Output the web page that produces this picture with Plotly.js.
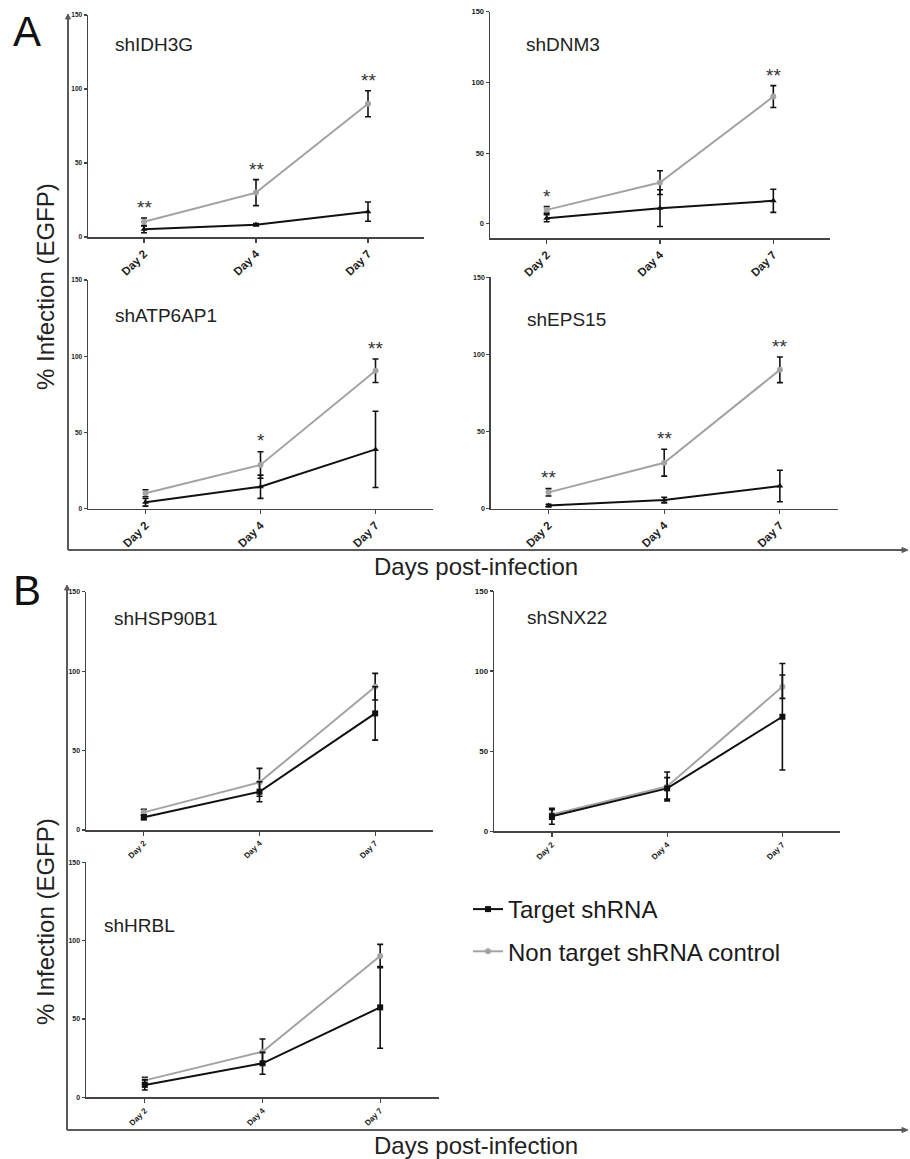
<!DOCTYPE html>
<html>
<head>
<meta charset="utf-8">
<script src="https://cdn.plot.ly/plotly-3.0.1.min.js"></script>
<style>html,body{margin:0;padding:0;background:#fff;}#chart{width:910px;height:1159px;}</style>
</head>
<body>
<div id="chart"></div>
<script>
// ---------- data ----------
const days = ["Day 2", "Day 4", "Day 7"];
const yTicks = [0, 50, 100, 150];
const seriesNames = ["Target shRNA", "Non target shRNA control"];

const panelNames = ["shIDH3G", "shDNM3", "shATP6AP1", "shEPS15", "shHSP90B1", "shSNX22", "shHRBL"];

const idh3gTarget = [5.2, 8.3, 17.1];
const idh3gTargetErr = [2.3, 0.8, 6.5];
const idh3gControl = [10.3, 30.0, 90.0];
const idh3gControlErr = [2.5, 8.8, 8.8];
const idh3gStars = ["**", "**", "**"];

const dnm3Target = [4.0, 11.1, 16.3];
const dnm3TargetErr = [2.5, 13.0, 8.2];
const dnm3Control = [9.9, 29.2, 90.0];
const dnm3ControlErr = [2.3, 8.4, 7.7];
const dnm3Stars = ["*", "", "**"];

const atp6ap1Target = [4.2, 14.4, 38.9];
const atp6ap1TargetErr = [2.5, 7.6, 25.0];
const atp6ap1Control = [10.1, 28.7, 90.5];
const atp6ap1ControlErr = [2.3, 8.7, 7.7];
const atp6ap1Stars = ["", "*", "**"];

const eps15Target = [2.0, 5.6, 14.7];
const eps15TargetErr = [0.8, 1.8, 10.2];
const eps15Control = [10.6, 29.8, 90.0];
const eps15ControlErr = [2.4, 8.7, 8.3];
const eps15Stars = ["**", "**", "**"];

const hsp90b1Target = [8.0, 24.1, 73.4];
const hsp90b1TargetErr = [1.5, 6.3, 16.8];
const hsp90b1Control = [11.1, 30.0, 90.2];
const hsp90b1ControlErr = [2.0, 8.8, 8.4];

const snx22Target = [9.4, 26.8, 71.5];
const snx22TargetErr = [5.0, 6.7, 33.2];
const snx22Control = [10.5, 28.0, 90.3];
const snx22ControlErr = [3.0, 9.0, 7.3];

const hrblTarget = [7.9, 21.7, 57.4];
const hrblTargetErr = [3.2, 7.0, 26.1];
const hrblControl = [10.8, 29.1, 90.2];
const hrblControlErr = [2.0, 8.1, 7.4];

// ---------- layout geometry (pixels) ----------
const W = 910, H = 1159;
const fx = px => px / W;
const fy = px => 1 - px / H;
const FONT = '"Liberation Sans", Arial, sans-serif';

const panels = [
  {name: panelNames[0], t: idh3gTarget, te: idh3gTargetErr, c: idh3gControl, ce: idh3gControlErr, stars: idh3gStars,
   x: [88, 424], y: [15, 237], yr: [0, 150], ytf: 6.5, xtf: 11.5, sym: "triangle-up", title: [113, 45]},
  {name: panelNames[1], t: dnm3Target, te: dnm3TargetErr, c: dnm3Control, ce: dnm3ControlErr, stars: dnm3Stars,
   x: [490, 830], y: [11.7, 238], yr: [-10, 150], ytf: 7.5, xtf: 11.5, sym: "triangle-up", title: [524, 45]},
  {name: panelNames[2], t: atp6ap1Target, te: atp6ap1TargetErr, c: atp6ap1Control, ce: atp6ap1ControlErr, stars: atp6ap1Stars,
   x: [88, 433], y: [280, 508.7], yr: [0, 150], ytf: 6.5, xtf: 11.5, sym: "triangle-up", title: [113, 315]},
  {name: panelNames[3], t: eps15Target, te: eps15TargetErr, c: eps15Control, ce: eps15ControlErr, stars: eps15Stars,
   x: [490.7, 837.7], y: [277.3, 508.7], yr: [0, 150], ytf: 7, xtf: 11.5, sym: "triangle-up", title: [525, 319]},
  {name: panelNames[4], t: hsp90b1Target, te: hsp90b1TargetErr, c: hsp90b1Control, ce: hsp90b1ControlErr, stars: null,
   x: [86, 433], y: [591.7, 830], yr: [0, 150], ytf: 7, xtf: 8, sym: "square", title: [112, 618], legend: true},
  {name: panelNames[5], t: snx22Target, te: snx22TargetErr, c: snx22Control, ce: snx22ControlErr, stars: null,
   x: [494.3, 840], y: [591, 831.3], yr: [0, 150], ytf: 8, xtf: 8, sym: "square", title: [525, 617]},
  {name: panelNames[6], t: hrblTarget, te: hrblTargetErr, c: hrblControl, ce: hrblControlErr, stars: null,
   x: [86, 439], y: [862.3, 1097.3], yr: [0, 150], ytf: 7, xtf: 8, sym: "square", title: [102, 925]}
];

const traces = [];
const layout = {
  width: W, height: H,
  margin: {l: 0, r: 0, t: 0, b: 0},
  paper_bgcolor: "#fff", plot_bgcolor: "rgba(0,0,0,0)",
  font: {family: FONT, color: "#222"},
  showlegend: true,
  legend: {x: fx(468), y: fy(887), xanchor: "left", yanchor: "top",
           font: {size: 24, family: FONT, color: "#1a1a1a"}, bgcolor: "rgba(0,0,0,0)",
           itemwidth: 30, tracegroupgap: 8, traceorder: "grouped"},
  annotations: [], shapes: []
};

panels.forEach((p, i) => {
  const n = i + 1;
  const xa = n === 1 ? "x" : "x" + n;
  const ya = n === 1 ? "y" : "y" + n;
  const xk = n === 1 ? "xaxis" : "xaxis" + n;
  const yk = n === 1 ? "yaxis" : "yaxis" + n;

  traces.push({
    type: "scatter", mode: "lines+markers", x: days, y: p.c, xaxis: xa, yaxis: ya,
    name: seriesNames[1], legendgroup: "control", legendrank: 2, showlegend: !!p.legend,
    line: {color: "#a3a3a3", width: 2},
    marker: {color: "#a3a3a3", size: 6, symbol: "circle"},
    error_y: {type: "data", array: p.ce, visible: true, color: "#111", thickness: 1.6, width: 3},
    cliponaxis: false
  });
  traces.push({
    type: "scatter", mode: "lines+markers", x: days, y: p.t, xaxis: xa, yaxis: ya,
    name: seriesNames[0], legendgroup: "target", legendrank: 1, showlegend: !!p.legend,
    line: {color: "#111", width: 2},
    marker: {color: "#111", size: 6, symbol: p.sym},
    error_y: {type: "data", array: p.te, visible: true, color: "#111", thickness: 1.6, width: 3},
    cliponaxis: false
  });

  layout[xk] = {
    domain: [fx(p.x[0]), fx(p.x[1])], anchor: ya, type: "category",
    range: [-0.5, 2.5], showgrid: false, zeroline: false,
    showline: true, linecolor: "#444", linewidth: 1.5,
    ticks: "outside", ticklen: 4, tickwidth: 1.2, tickcolor: "#444",
    tickangle: -45, tickfont: {size: p.xtf, family: FONT, color: "#222", weight: "bold"},
    fixedrange: true
  };
  layout[yk] = {
    domain: [fy(p.y[1]), fy(p.y[0])], anchor: xa,
    range: p.yr, tickvals: yTicks, showgrid: false, zeroline: false,
    showline: true, linecolor: "#444", linewidth: 1.5,
    ticks: "outside", ticklen: 3, tickwidth: 1.2, tickcolor: "#444",
    tickfont: {size: p.ytf, family: FONT, color: "#222", weight: "bold"},
    fixedrange: true
  };

  layout.annotations.push({
    text: p.name, xref: "paper", yref: "paper", x: fx(p.title[0]), y: fy(p.title[1]),
    xanchor: "left", yanchor: "middle", showarrow: false,
    font: {size: 19, family: FONT, color: "#222"}
  });

  if (p.stars) {
    p.stars.forEach((s, k) => {
      if (!s) return;
      layout.annotations.push({
        text: s, xref: xa, yref: ya, x: days[k], y: p.c[k] + p.ce[k] + 7,
        xanchor: "center", yanchor: "middle", showarrow: false,
        font: {size: 19, family: FONT, color: "#333"}
      });
    });
  }
});

// big panel letters
layout.annotations.push({text: "A", xref: "paper", yref: "paper", x: fx(27), y: fy(32),
  xanchor: "center", yanchor: "middle", showarrow: false, font: {size: 42, family: FONT, color: "#111"}});
layout.annotations.push({text: "B", xref: "paper", yref: "paper", x: fx(27), y: fy(590),
  xanchor: "center", yanchor: "middle", showarrow: false, font: {size: 42, family: FONT, color: "#111"}});

// shared axis titles
const axTitleFont = {size: 24, family: FONT, color: "#222"};
[[287, 566], [922, 1145]].forEach(([yc, xb]) => {
  layout.annotations.push({text: "% Infection (EGFP)", xref: "paper", yref: "paper", x: fx(45), y: fy(yc),
    textangle: -90, xanchor: "center", yanchor: "middle", showarrow: false, font: axTitleFont});
  layout.annotations.push({text: "Days post-infection", xref: "paper", yref: "paper", x: fx(476), y: fy(xb),
    xanchor: "center", yanchor: "middle", showarrow: false, font: axTitleFont});
});

// outer frames with arrows
const frameColor = "#5a5a5a";
[[68, 14, 550], [67, 585, 1130]].forEach(([xv, ytop, ybot]) => {
  layout.shapes.push({type: "line", xref: "paper", yref: "paper",
    x0: fx(xv), x1: fx(xv), y0: fy(ytop + 4), y1: fy(ybot), line: {color: frameColor, width: 2}});
  layout.shapes.push({type: "line", xref: "paper", yref: "paper",
    x0: fx(xv), x1: fx(903), y0: fy(ybot), y1: fy(ybot), line: {color: frameColor, width: 2}});
  layout.shapes.push({type: "path", xref: "paper", yref: "paper",
    path: `M ${fx(xv - 2.5)} ${fy(ytop + 5)} L ${fx(xv)} ${fy(ytop)} L ${fx(xv + 2.5)} ${fy(ytop + 5)} Z`,
    fillcolor: frameColor, line: {color: frameColor, width: 1}});
  layout.shapes.push({type: "path", xref: "paper", yref: "paper",
    path: `M ${fx(902)} ${fy(ybot - 2.5)} L ${fx(908)} ${fy(ybot)} L ${fx(902)} ${fy(ybot + 2.5)} Z`,
    fillcolor: frameColor, line: {color: frameColor, width: 1}});
});

Plotly.newPlot("chart", traces, layout, {displayModeBar: false, staticPlot: true});
</script>
</body>
</html>
